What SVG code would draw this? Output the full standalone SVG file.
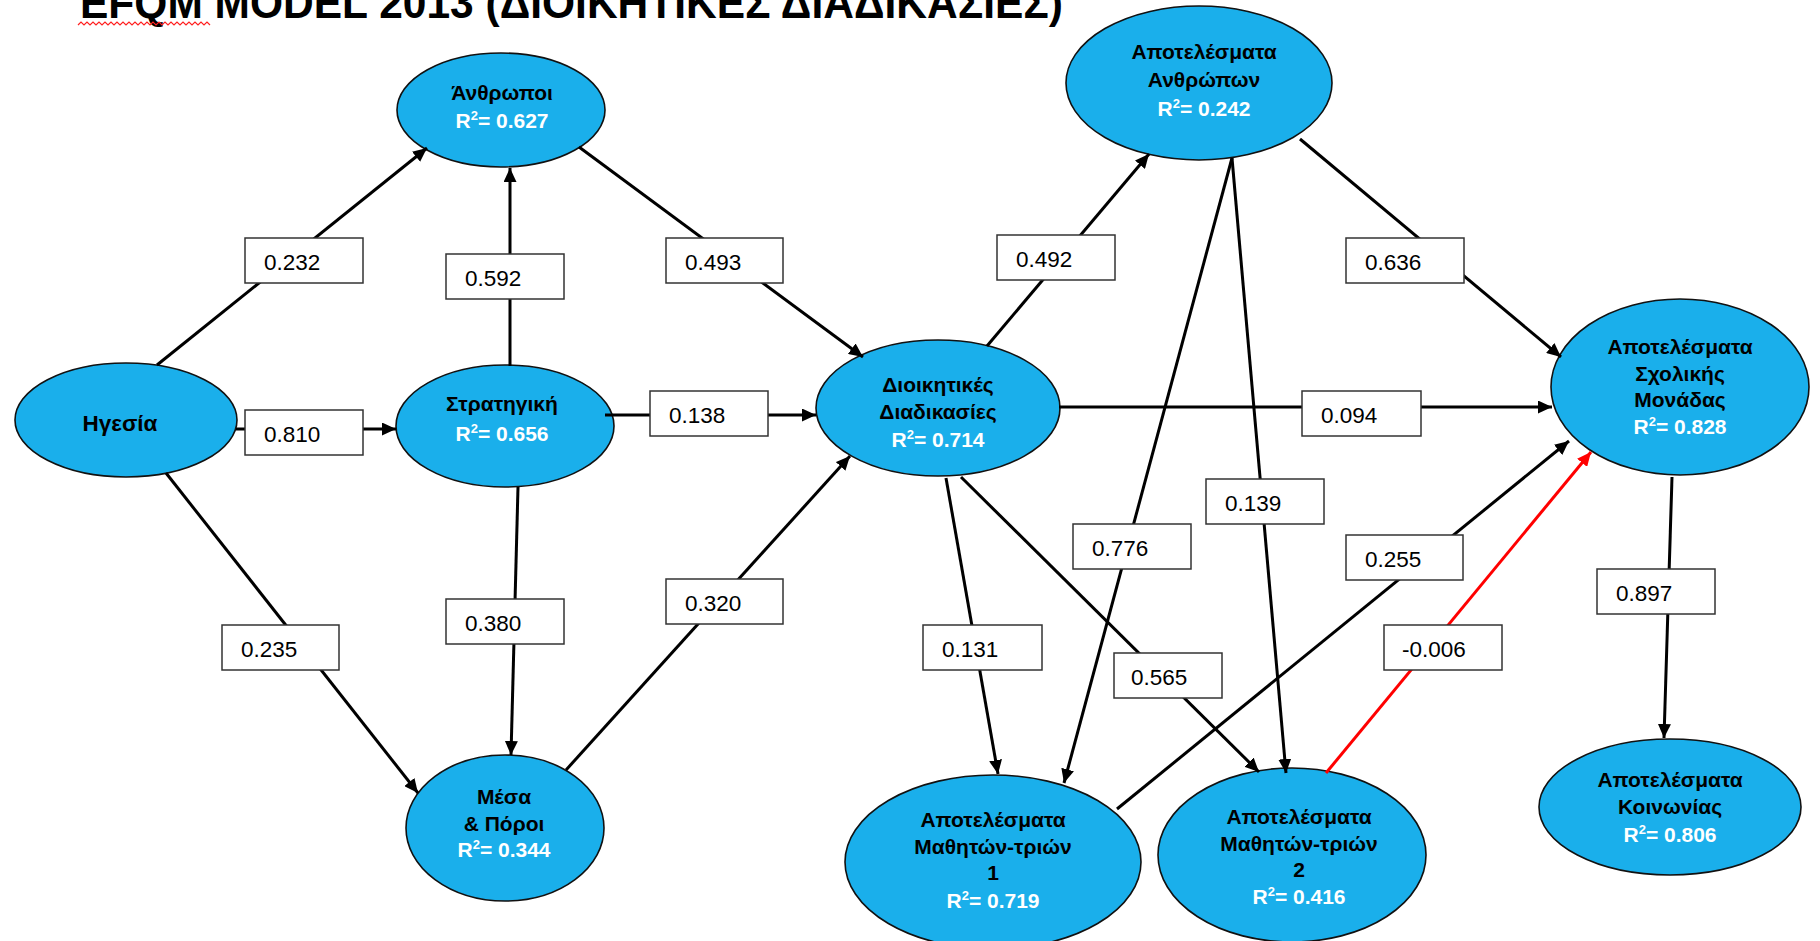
<svg xmlns="http://www.w3.org/2000/svg" width="1820" height="941" viewBox="0 0 1820 941">
<defs>
<marker id="arr" markerUnits="userSpaceOnUse" markerWidth="15" markerHeight="13" refX="14" refY="6.5" orient="auto"><path d="M0,0 L14,6.5 L0,13 z" fill="#000"/></marker>
<marker id="arrRed" markerUnits="userSpaceOnUse" markerWidth="15" markerHeight="13" refX="14" refY="6.5" orient="auto"><path d="M0,0 L14,6.5 L0,13 z" fill="#ff0000"/></marker>
<style>
.node ellipse{fill:#1aafeb;stroke:#111;stroke-width:1.6}
.nt{font-family:"Liberation Sans",Arial,sans-serif;font-weight:bold;font-size:21px;fill:#000;text-anchor:middle}
.big{font-size:22.5px}
.r2{font-family:"Liberation Sans",Arial,sans-serif;font-weight:bold;font-size:21px;fill:#fff;text-anchor:middle}
.sup{font-size:13px}
.edge{stroke:#000;stroke-width:3;fill:none;marker-end:url(#arr)}
.edge.red{stroke:#ff0000;marker-end:url(#arrRed)}
.lbl rect{fill:#fff;stroke:#333;stroke-width:1.5}
.lbl text{font-family:"Liberation Sans",Arial,sans-serif;font-size:22.5px;fill:#000}
.title{font-family:"Liberation Sans",Arial,sans-serif;font-weight:bold;font-size:44px;fill:#000}
</style>
</defs>
<rect width="1820" height="941" fill="#fff"/>
<text class="title" x="80" y="18" textLength="983" lengthAdjust="spacingAndGlyphs">EFQM MODEL 2013 (ΔΙΟΙΚΗΤΙΚΕΣ ΔΙΑΔΙΚΑΣΙΕΣ)</text>
<path d="M78,25 l3,-3 3,3 3,-3 3,3 3,-3 3,3 3,-3 3,3 3,-3 3,3 3,-3 3,3 3,-3 3,3 3,-3 3,3 3,-3 3,3 3,-3 3,3 3,-3 3,3 3,-3 3,3 3,-3 3,3 3,-3 3,3 3,-3 3,3 3,-3 3,3 3,-3 3,3 3,-3 3,3 3,-3 3,3 3,-3 3,3 3,-3 3,3 3,-3 3,3" fill="none" stroke="#ff2020" stroke-width="1.2"/>

<g id="nodes">
<g id="n-igesia" class="node"><ellipse cx="126" cy="420" rx="111" ry="57"/><text class="nt big" x="120" y="431">Ηγεσία</text></g>
<g id="n-anthropoi" class="node"><ellipse cx="501" cy="110" rx="104" ry="57"/><text class="nt" x="502" y="100">Άνθρωποι</text><text class="r2" x="502" y="128">R<tspan class="sup" dy="-8">2</tspan><tspan dy="8">= 0.627</tspan></text></g>
<g id="n-stratigiki" class="node"><ellipse cx="505" cy="426" rx="109" ry="61"/><text class="nt" x="502" y="411">Στρατηγική</text><text class="r2" x="502" y="441">R<tspan class="sup" dy="-8">2</tspan><tspan dy="8">= 0.656</tspan></text></g>
<g id="n-mesa" class="node"><ellipse cx="505" cy="828" rx="99" ry="73"/><text class="nt" x="504" y="804">Μέσα</text><text class="nt" x="504" y="831">&amp; Πόροι</text><text class="r2" x="504" y="857">R<tspan class="sup" dy="-8">2</tspan><tspan dy="8">= 0.344</tspan></text></g>
<g id="n-dioikitikes" class="node"><ellipse cx="938" cy="408" rx="122" ry="68"/><text class="nt" x="938" y="392">Διοικητικές</text><text class="nt" x="938" y="419">Διαδικασίες</text><text class="r2" x="938" y="447">R<tspan class="sup" dy="-8">2</tspan><tspan dy="8">= 0.714</tspan></text></g>
<g id="n-apot-anthropon" class="node"><ellipse cx="1199" cy="83" rx="133" ry="77"/><text class="nt" x="1204" y="59">Αποτελέσματα</text><text class="nt" x="1204" y="87">Ανθρώπων</text><text class="r2" x="1204" y="116">R<tspan class="sup" dy="-8">2</tspan><tspan dy="8">= 0.242</tspan></text></g>
<g id="n-apot-sxolikis" class="node"><ellipse cx="1680" cy="387" rx="129" ry="88"/><text class="nt" x="1680" y="354">Αποτελέσματα</text><text class="nt" x="1680" y="381">Σχολικής</text><text class="nt" x="1680" y="407">Μονάδας</text><text class="r2" x="1680" y="434">R<tspan class="sup" dy="-8">2</tspan><tspan dy="8">= 0.828</tspan></text></g>
<g id="n-mathiton1" class="node"><ellipse cx="993" cy="862" rx="148" ry="87"/><text class="nt" x="993" y="827">Αποτελέσματα</text><text class="nt" x="993" y="854">Μαθητών-τριών</text><text class="nt" x="993" y="880">1</text><text class="r2" x="993" y="908">R<tspan class="sup" dy="-8">2</tspan><tspan dy="8">= 0.719</tspan></text></g>
<g id="n-mathiton2" class="node"><ellipse cx="1292" cy="855" rx="134" ry="87"/><text class="nt" x="1299" y="824">Αποτελέσματα</text><text class="nt" x="1299" y="851">Μαθητών-τριών</text><text class="nt" x="1299" y="877">2</text><text class="r2" x="1299" y="904">R<tspan class="sup" dy="-8">2</tspan><tspan dy="8">= 0.416</tspan></text></g>
<g id="n-koinonias" class="node"><ellipse cx="1670" cy="807" rx="131" ry="68"/><text class="nt" x="1670" y="787">Αποτελέσματα</text><text class="nt" x="1670" y="814">Κοινωνίας</text><text class="r2" x="1670" y="842">R<tspan class="sup" dy="-8">2</tspan><tspan dy="8">= 0.806</tspan></text></g>
</g>

<g id="connectors">
<g id="edge-lines">
<line class="edge" x1="157" y1="365" x2="427" y2="148"/>
<line class="edge" x1="510" y1="366" x2="510" y2="168"/>
<line class="edge" x1="236" y1="429" x2="396" y2="429"/>
<line class="edge" x1="605" y1="415" x2="816" y2="415"/>
<line class="edge" x1="579" y1="147" x2="863" y2="357"/>
<line class="edge" x1="166" y1="473" x2="418" y2="793"/>
<line class="edge" x1="518" y1="487" x2="511" y2="755"/>
<line class="edge" x1="566" y1="770" x2="850" y2="456"/>
<line class="edge" x1="987" y1="346" x2="1149" y2="154"/>
<line class="edge" x1="1300" y1="139" x2="1561" y2="357"/>
<line class="edge" x1="1059" y1="407" x2="1552" y2="407"/>
<line class="edge" x1="946" y1="478" x2="998" y2="774"/>
<line class="edge" x1="961" y1="477" x2="1259" y2="772"/>
<line class="edge" x1="1232" y1="158" x2="1064" y2="783"/>
<line class="edge" x1="1232" y1="158" x2="1286" y2="773"/>
<line class="edge" x1="1117" y1="809" x2="1569" y2="441"/>
<line class="edge red" x1="1326" y1="773" x2="1591" y2="452"/>
<line class="edge" x1="1672" y1="477" x2="1664" y2="738"/>
</g>
<g id="edge-labels">
<g class="lbl"><rect x="245" y="238" width="118" height="45"/><text x="264" y="270">0.232</text></g>
<g class="lbl"><rect x="446" y="254" width="118" height="45"/><text x="465" y="286">0.592</text></g>
<g class="lbl"><rect x="666" y="238" width="117" height="45"/><text x="685" y="270">0.493</text></g>
<g class="lbl"><rect x="245" y="410" width="118" height="45"/><text x="264" y="442">0.810</text></g>
<g class="lbl"><rect x="650" y="391" width="118" height="45"/><text x="669" y="423">0.138</text></g>
<g class="lbl"><rect x="446" y="599" width="118" height="45"/><text x="465" y="631">0.380</text></g>
<g class="lbl"><rect x="666" y="579" width="117" height="45"/><text x="685" y="611">0.320</text></g>
<g class="lbl"><rect x="222" y="625" width="117" height="45"/><text x="241" y="657">0.235</text></g>
<g class="lbl"><rect x="997" y="235" width="118" height="45"/><text x="1016" y="267">0.492</text></g>
<g class="lbl"><rect x="1346" y="238" width="118" height="45"/><text x="1365" y="270">0.636</text></g>
<g class="lbl"><rect x="1302" y="391" width="119" height="45"/><text x="1321" y="423">0.094</text></g>
<g class="lbl"><rect x="1073" y="524" width="118" height="45"/><text x="1092" y="556">0.776</text></g>
<g class="lbl"><rect x="1206" y="479" width="118" height="45"/><text x="1225" y="511">0.139</text></g>
<g class="lbl"><rect x="923" y="625" width="119" height="45"/><text x="942" y="657">0.131</text></g>
<g class="lbl"><rect x="1114" y="653" width="108" height="45"/><text x="1131" y="685">0.565</text></g>
<g class="lbl"><rect x="1346" y="535" width="117" height="45"/><text x="1365" y="567">0.255</text></g>
<g class="lbl"><rect x="1384" y="625" width="118" height="45"/><text x="1402" y="657">-0.006</text></g>
<g class="lbl"><rect x="1597" y="569" width="118" height="45"/><text x="1616" y="601">0.897</text></g>
</g>
</g>
</svg>
